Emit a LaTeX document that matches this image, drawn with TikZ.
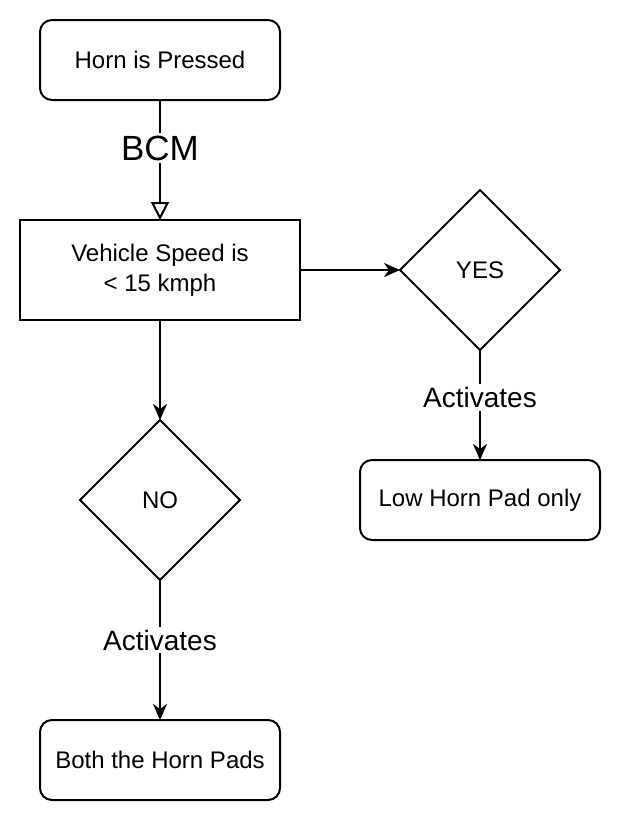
\documentclass[tikz,border=0pt]{standalone}
\usepackage{fontspec}
\setmainfont{Liberation Sans}
\usetikzlibrary{arrows.meta, positioning, shapes.geometric}

\begin{document}
\begin{tikzpicture}[x=1pt, y=1pt, line width=2pt]
	\tikzset{->, >={Stealth[length=16pt, width=14pt, inset=5pt]},
		every node/.style={font=\fontsize{24}{30}\selectfont, outer sep=0pt},
		pad/.style={draw, rounded corners=12pt, minimum width=240pt, minimum height=80pt, align=center},
		check/.style={draw, rectangle, minimum width=280pt, minimum height=100pt, align=center},
		choice/.style={draw, diamond, aspect=1, inner sep=0pt, minimum size=160pt},
		tag/.style={fill=white, inner sep=3pt, font=\fontsize{28}{32}\selectfont}}

	\useasboundingbox (0,0) rectangle (622,-822);

	\node[pad] (horn) at (160,-60) {Horn is Pressed};
	\node[check, below=120pt of horn] (speed) {Vehicle Speed is\\< 15 kmph};
	\node[choice, right=100pt of speed] (yes) {YES};
	\node[choice, below=100pt of speed] (no) {NO};
	\node[pad, below=110pt of yes] (low) {Low Horn Pad only};
	\node[pad, below=140pt of no] (both) {Both the Horn Pads};

	\draw[-{Triangle[open, length=18pt, width=18pt]}]
		(horn) -- node[tag, pos=0.4, font=\fontsize{35}{38}\selectfont] {BCM} (speed);
	\draw (speed) -- (yes);
	\draw (speed) -- (no);
	\draw (yes) -- node[tag, pos=0.43] {Activates} (low);
	\draw (no) -- node[tag, pos=0.43] {Activates} (both);
\end{tikzpicture}
\end{document}
